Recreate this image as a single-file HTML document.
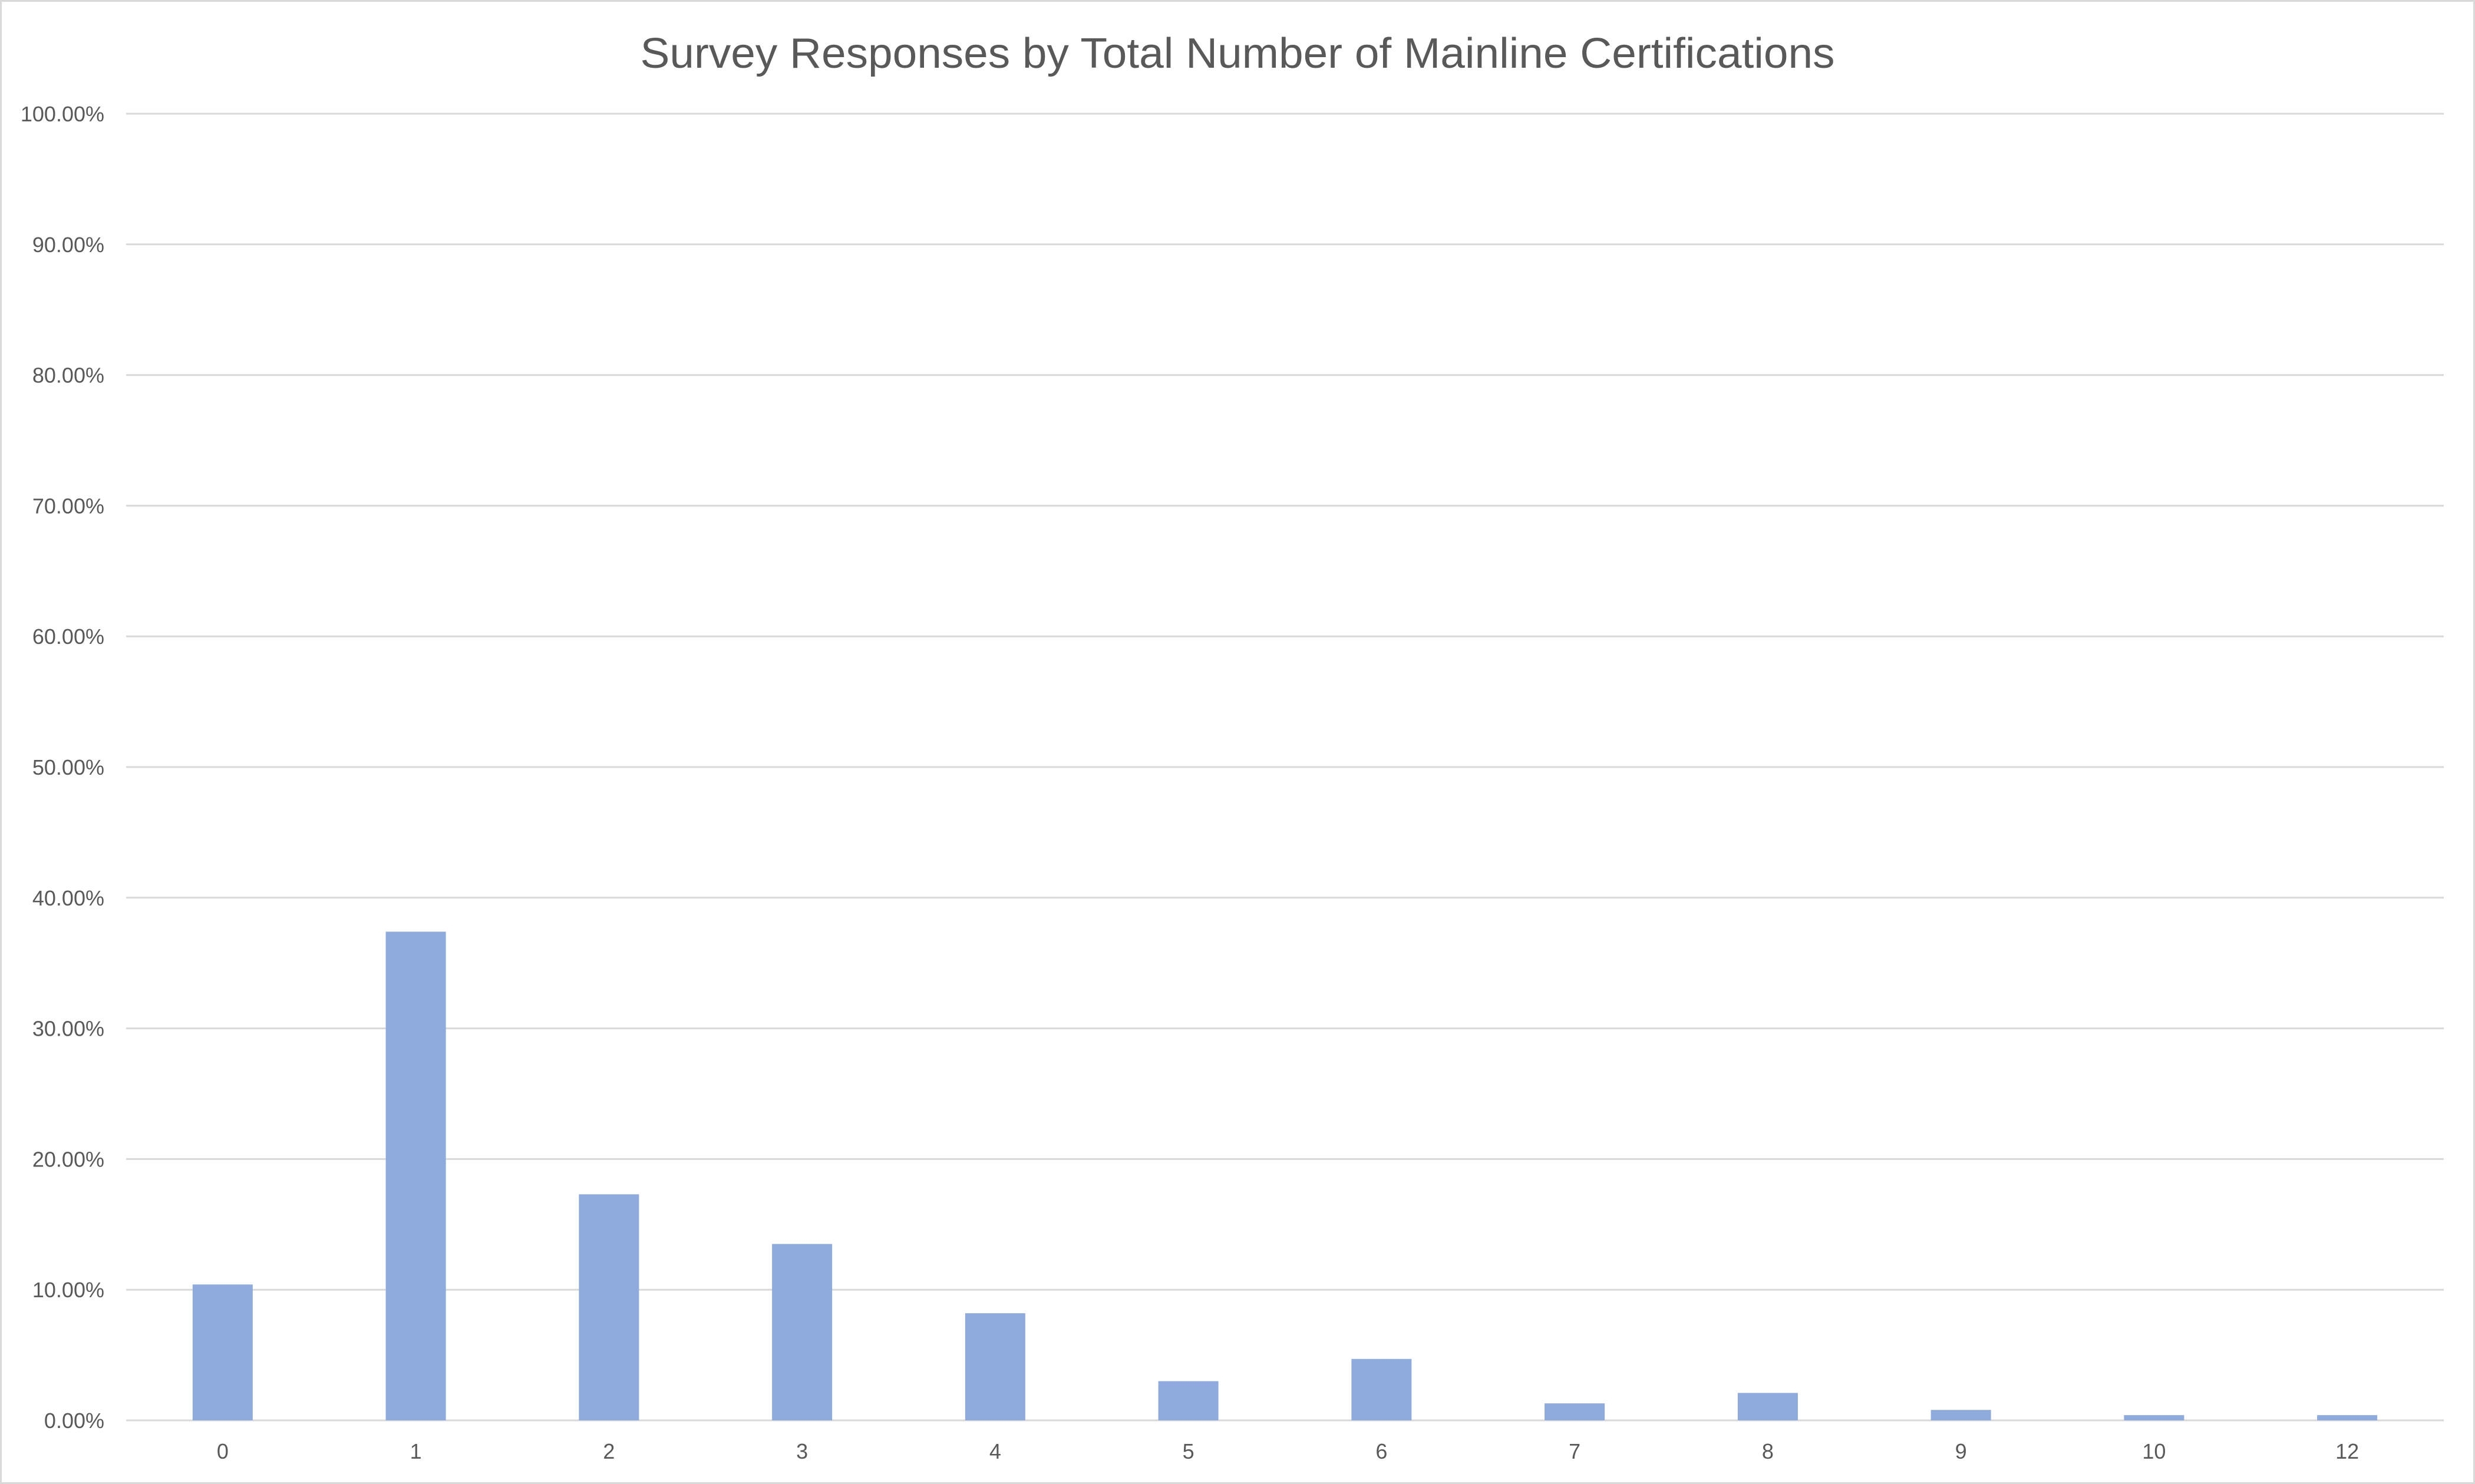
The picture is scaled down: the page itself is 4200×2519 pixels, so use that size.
<!DOCTYPE html>
<html><head><meta charset="utf-8"><style>
html,body{margin:0;padding:0;background:#fff;}
svg{display:block;font-family:"Liberation Sans",sans-serif;}
</style></head><body>
<svg id="chart" width="4200" height="2519" viewBox="0 0 4200 2519">
<rect x="1.5" y="1.5" width="4197" height="2516" fill="#fff" stroke="#d9d9d9" stroke-width="3"/>
<text x="2100" y="115" text-anchor="middle" font-size="72" fill="#595959" textLength="2027" lengthAdjust="spacingAndGlyphs">Survey Responses by Total Number of Mainline Certifications</text>
<g id="grid"></g><g id="bars"></g><g id="xlabels"></g><g id="ylabels"></g>
</svg>
<script>
const categories = ["0","1","2","3","4","5","6","7","8","9","10","12"];
const values = [10.4, 37.4, 17.3, 13.5, 8.2, 3.0, 4.7, 1.3, 2.1, 0.8, 0.4, 0.4];
const yTicks = [0,10,20,30,40,50,60,70,80,90,100];
const yTickLabels = ["0.00%","10.00%","20.00%","30.00%","40.00%","50.00%","60.00%","70.00%","80.00%","90.00%","100.00%"];

const NS = "http://www.w3.org/2000/svg";
const L = 214, R = 4147, Y0 = 2411, Y100 = 193;
const yScale = v => Y0 - (v / 100) * (Y0 - Y100);
const band = (R - L) / categories.length;
const xCenter = i => L + band * (i + 0.5);
const barW = 102;
function mk(tag, attrs, parent){const e=document.createElementNS(NS,tag);for(const k in attrs)e.setAttribute(k,attrs[k]);parent.appendChild(e);return e;}
const grid=document.getElementById('grid'), bars=document.getElementById('bars'), xl=document.getElementById('xlabels'), yl=document.getElementById('ylabels');
yTicks.forEach((t,i)=>{
  const y=yScale(t);
  const ln=mk('line',{x1:L,x2:R,y1:y,y2:y,stroke:'#d9d9d9','stroke-width':3},grid);
  
  
  const tx=mk('text',{x:177,y:y+13,'text-anchor':'end','font-size':36,fill:'#595959'},yl);
  tx.textContent=yTickLabels[i];
  
  
});
categories.forEach((c,i)=>{
  const y=yScale(values[i]);
  const r=mk('rect',{x:xCenter(i)-barW/2,y:y,width:barW,height:Y0-y,fill:'#8faadc'},bars);
  
  
  const tx=mk('text',{x:xCenter(i),y:2476,'text-anchor':'middle','font-size':36,fill:'#595959'},xl);
  tx.textContent=c;
  
  
});
</script>
</body></html>
